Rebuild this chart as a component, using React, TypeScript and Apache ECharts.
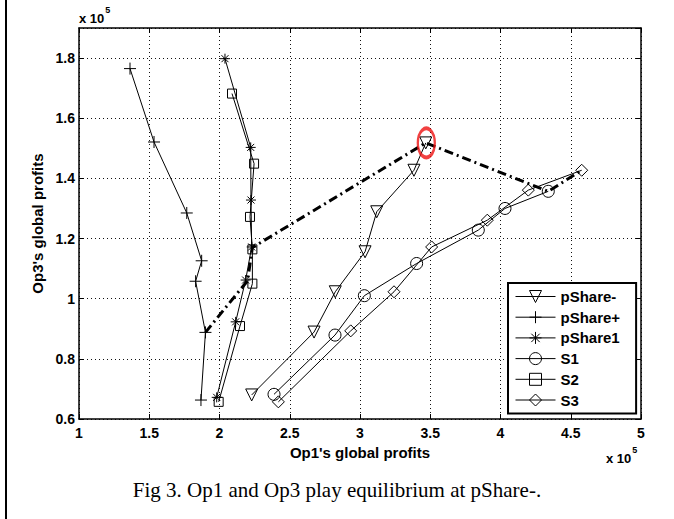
import React, { useEffect, useRef } from "react";
import * as echarts from "echarts";

// Axis settings (units of 1e5)
const xMin = 1, xMax = 5, xStep = 0.5;
const yMin = 0.6, yMax = 1.9, yStep = 0.2;

const seriesNames = ["pShare-", "pShare+", "pShare1", "S1", "S2", "S3"];

const pShareMinus: [number, number][] = [
  [2.229, 0.68], [2.673, 0.889], [2.824, 1.023], [3.036, 1.156], [3.119, 1.289], [3.384, 1.427], [3.468, 1.518],
];
const pSharePlus: [number, number][] = [
  [1.363, 1.765], [1.534, 1.521], [1.767, 1.285], [1.873, 1.126], [1.83, 1.058], [1.9, 0.888], [1.868, 0.663],
];
const pShare1: [number, number][] = [
  [2.039, 1.798], [2.222, 1.503], [2.224, 1.328], [2.229, 1.172], [2.186, 1.062], [2.115, 0.923], [1.98, 0.672],
];
const s1: [number, number][] = [
  [2.388, 0.682], [2.822, 0.879], [3.031, 1.01], [3.403, 1.117], [3.842, 1.228], [4.032, 1.3], [4.34, 1.357],
];
const s2: [number, number][] = [
  [2.089, 1.682], [2.246, 1.449], [2.217, 1.272], [2.234, 1.164], [2.234, 1.05], [2.146, 0.909], [1.994, 0.657],
];
const s3: [number, number][] = [
  [2.419, 0.657], [2.934, 0.893], [3.242, 1.023], [3.51, 1.172], [3.906, 1.261], [4.198, 1.361], [4.578, 1.427],
];
// best-response path (thick dash-dot)
const responsePath: [number, number][] = [
  [1.9, 0.888], [2.2, 1.06], [2.234, 1.17], [3.468, 1.518], [4.34, 1.357], [4.578, 1.427],
];
const equilibrium: [number, number][] = [[3.472, 1.518]];

const PLUS = "path://M0,5L10,5M5,0L5,10";
const STAR = "path://M0,5L10,5M5,0L5,10M1.5,1.5L8.5,8.5M1.5,8.5L8.5,1.5";

const SANS = "'Liberation Sans', Arial, sans-serif";
const SERIF = "'Liberation Serif', 'Times New Roman', serif";

const fmt = (v: number) => String(Math.round(v * 100) / 100);

const expText = (x: number, y: number) => ({
  type: "text",
  x,
  y,
  style: {
    text: "{a|x 10}{b|5}",
    fill: "#000",
    verticalAlign: "middle",
    rich: {
      a: { font: `bold 13px ${SANS}`, fill: "#000", lineHeight: 20, verticalAlign: "bottom" },
      b: { font: `bold 9px ${SANS}`, fill: "#000", lineHeight: 20, verticalAlign: "top", padding: [0, 0, 0, 1] },
    },
  },
});

export default function App() {
  const ref = useRef<HTMLDivElement>(null);
  useEffect(() => {
    if (!ref.current) return;
    const chart = echarts.init(ref.current, undefined, { renderer: "svg" });
    const hollow = { color: "rgba(0,0,0,0)", borderColor: "#000", borderWidth: 1 };
    const mk = (name: string, data: [number, number][], symbol: string, size: number, rotate = 0) => ({
      name,
      type: "line",
      data,
      symbol,
      symbolSize: size,
      symbolRotate: rotate,
      showSymbol: true,
      lineStyle: { color: "#000", width: 1 },
      itemStyle: hollow,
      silent: true,
      z: 3,
    });
    const gridLine = { show: true, lineStyle: { color: "#111", type: [1, 3], width: 1 } };
    const option: any = {
      animation: false,
      backgroundColor: "#fff",
      grid: { left: 79, right: 33, top: 28, bottom: 100 },
      xAxis: [
        {
          type: "value", min: xMin, max: xMax, interval: xStep,
          name: "Op1's global profits", nameLocation: "middle", nameGap: 21,
          nameTextStyle: { fontFamily: SANS, fontWeight: "bold", fontSize: 15, color: "#000" },
          axisLine: { show: true, lineStyle: { color: "#000", width: 1.5 } },
          axisTick: { show: true, inside: true, length: 5, lineStyle: { color: "#000" } },
          axisLabel: { formatter: fmt, fontFamily: SANS, fontWeight: "bold", fontSize: 14, color: "#000", margin: 7 },
          splitLine: gridLine,
        },
        {
          type: "value", min: xMin, max: xMax, interval: xStep, position: "top",
          axisLine: { show: true, lineStyle: { color: "#000", width: 1.5 } },
          axisTick: { show: true, inside: true, length: 5, lineStyle: { color: "#000" } },
          axisLabel: { show: false },
          splitLine: { show: false },
        },
      ],
      yAxis: [
        {
          type: "value", min: yMin, max: yMax, interval: yStep,
          name: "Op3's global profits", nameLocation: "middle", nameGap: 22,
          nameTextStyle: { fontFamily: SANS, fontWeight: "bold", fontSize: 15, color: "#000" },
          axisLine: { show: true, lineStyle: { color: "#000", width: 1.5 } },
          axisTick: { show: true, inside: true, length: 5, lineStyle: { color: "#000" } },
          axisLabel: { formatter: fmt, showMaxLabel: false, fontFamily: SANS, fontWeight: "bold", fontSize: 14, color: "#000", margin: 4 },
          splitLine: gridLine,
        },
        {
          type: "value", min: yMin, max: yMax, interval: yStep, position: "right",
          axisLine: { show: true, lineStyle: { color: "#000", width: 1.5 } },
          axisTick: { show: true, inside: true, length: 5, lineStyle: { color: "#000" } },
          axisLabel: { show: false },
          splitLine: { show: false },
        },
      ],
      legend: {
        data: seriesNames,
        orient: "vertical",
        left: 508,
        top: 283,
        itemWidth: 40,
        itemHeight: 15,
        itemGap: 5.7,
        padding: [6, 16, 6, 7],
        backgroundColor: "#fff",
        borderColor: "#000",
        borderWidth: 2,
        borderRadius: 0,
        itemStyle: { color: "rgba(0,0,0,0)", borderColor: "#000", borderWidth: 1 },
        lineStyle: { color: "#000", width: 1 },
        textStyle: { fontFamily: SANS, fontWeight: "bold", fontSize: 15, color: "#000" },
        selectedMode: false,
        z: 10,
      },
      series: [
        mk(seriesNames[0], pShareMinus, "triangle", 12, 180),
        mk(seriesNames[1], pSharePlus, PLUS, 12),
        mk(seriesNames[2], pShare1, STAR, 10),
        mk(seriesNames[3], s1, "circle", 12),
        mk(seriesNames[4], s2, "rect", 9),
        mk(seriesNames[5], s3, "diamond", 12),
        {
          name: "path",
          type: "line",
          data: responsePath,
          symbol: "none",
          lineStyle: { color: "#000", width: 3, type: [9, 4, 2, 4] },
          silent: true,
          z: 4,
        },
        {
          name: "eq",
          type: "scatter",
          data: equilibrium,
          symbol: "circle",
          symbolSize: [17, 29],
          itemStyle: { color: "rgba(0,0,0,0)", borderColor: "#ee1111", borderWidth: 3 },
          silent: true,
          z: 5,
        },
      ],
      graphic: [
        { type: "rect", shape: { x: 5, y: 0, width: 2, height: 519 }, style: { fill: "#000" } },
        expText(79, 15),
        expText(606, 455),
        {
          type: "text", x: 337, y: 490,
          style: { text: "Fig 3. Op1 and Op3 play equilibrium at pShare-.", font: `21px ${SERIF}`, fill: "#000", align: "center", verticalAlign: "middle" },
        },
      ],
    };
    chart.setOption(option);
    return () => chart.dispose();
  }, []);
  return <div ref={ref} style={{ position: "fixed", left: 0, top: 0, width: 674, height: 519, background: "#fff" }} />;
}
